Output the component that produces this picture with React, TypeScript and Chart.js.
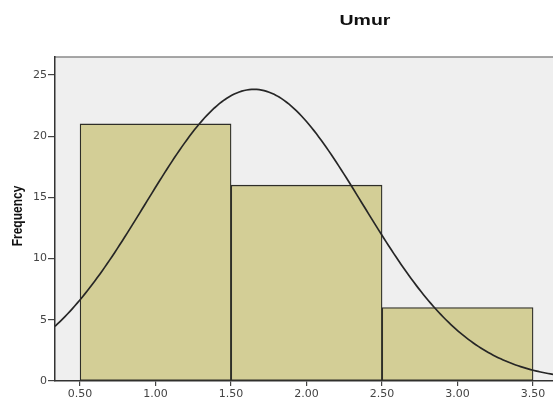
import React, { useEffect, useRef } from "react";
import { Chart, registerables } from "chart.js";

Chart.register(...registerables);

// Histogram bins (centres, width 1) and their frequencies
const binCenters = [1.0, 2.0, 3.0];
const frequencies = [21, 16, 6];
const binWidth = 1;

// Axis ticks
const xTickValues = [0.5, 1.0, 1.5, 2.0, 2.5, 3.0, 3.5];
const yTickValues = [0, 5, 10, 15, 20, 25];
const xRange = [0.334, 3.632];
const yRange = [0, 26.47];

const chartTitle = "Umur";
const yAxisTitle = "Frequency";

// Fitted normal curve (SPSS overlay) derived from the binned data above
function normalCurve() {
  const n = frequencies.reduce((a, b) => a + b, 0);
  const mean = binCenters.reduce((s, c, i) => s + c * frequencies[i], 0) / n;
  const ss = binCenters.reduce((s, c, i) => s + frequencies[i] * (c - mean) ** 2, 0);
  const sd = Math.sqrt(ss / (n - 1));
  const pts: { x: number; y: number }[] = [];
  const steps = 200;
  for (let i = 0; i <= steps; i++) {
    const x = xRange[0] + ((xRange[1] - xRange[0]) * i) / steps;
    const z = (x - mean) / sd;
    const y = (n * binWidth) / (sd * Math.sqrt(2 * Math.PI)) * Math.exp(-0.5 * z * z);
    pts.push({ x, y });
  }
  return pts;
}

const decorPlugin = {
  id: "decor",
  beforeDraw(chart: any) {
    const { ctx, chartArea } = chart;
    ctx.save();
    ctx.fillStyle = "#efefef";
    ctx.fillRect(chartArea.left, chartArea.top, chartArea.right - chartArea.left, chartArea.bottom - chartArea.top);
    ctx.strokeStyle = "#8a8a8a";
    ctx.lineWidth = 1.5;
    ctx.beginPath();
    ctx.moveTo(chartArea.left, chartArea.top);
    ctx.lineTo(chartArea.right, chartArea.top);
    ctx.stroke();
    ctx.restore();
  },
  afterDraw(chart: any) {
    const { ctx } = chart;
    ctx.save();
    ctx.fillStyle = "#111";
    ctx.textAlign = "center";
    ctx.textBaseline = "middle";
    ctx.font = "bold 15px 'Liberation Sans', Arial, sans-serif";
    ctx.translate(365, 21);
    ctx.scale(1.3, 1);
    ctx.fillText(chartTitle, 0, 0);
    ctx.restore();

    ctx.save();
    ctx.fillStyle = "#111";
    ctx.textAlign = "center";
    ctx.textBaseline = "middle";
    ctx.font = "bold 12px 'Liberation Sans', Arial, sans-serif";
    ctx.translate(18, 216);
    ctx.rotate(-Math.PI / 2);
    ctx.scale(1, 1.25);
    ctx.fillText(yAxisTitle, 0, 0);
    ctx.restore();
  },
};

export default function App() {
  const ref = useRef<HTMLCanvasElement | null>(null);

  useEffect(() => {
    if (!ref.current) return;
    const chart = new Chart(ref.current, {
      type: "bar",
      data: {
        datasets: [
          {
            type: "scatter",
            data: normalCurve(),
            showLine: true,
            borderColor: "#262626",
            borderWidth: 1.7,
            pointRadius: 0,
            fill: false,
            order: 0,
          } as any,
          {
            type: "bar",
            data: binCenters.map((c, i) => ({ x: c, y: frequencies[i] })),
            backgroundColor: "#d3ce96",
            borderColor: "#2e2e28",
            borderWidth: 1.3,
            borderSkipped: false,
            barThickness: "flex",
            barPercentage: 1,
            categoryPercentage: 1,
            order: 1,
          } as any,
        ],
      },
      options: {
        animation: false,
        responsive: true,
        maintainAspectRatio: false,
        layout: { padding: { top: 57, left: 0, right: 0, bottom: 0 } },
        plugins: { legend: { display: false }, tooltip: { enabled: false }, title: { display: false } },
        scales: {
          x: {
            type: "linear",
            offset: false,
            min: xRange[0],
            max: xRange[1],
            afterBuildTicks: (scale: any) => {
              scale.ticks = xTickValues.map((v) => ({ value: v }));
            },
            afterFit: (scale: any) => {
              scale.height = 18;
            },
            ticks: {
              autoSkip: false,
              maxRotation: 0,
              padding: 2,
              color: "#444",
              font: { family: "'DejaVu Sans', sans-serif", size: 11 },
              callback: (v: any) => Number(v).toFixed(2),
            },
            grid: { offset: false, drawOnChartArea: false, drawTicks: true, tickLength: 5, color: "#444", lineWidth: 1.2 },
            border: { display: true, color: "#333", width: 1.5 },
          },
          y: {
            type: "linear",
            min: yRange[0],
            max: yRange[1],
            afterBuildTicks: (scale: any) => {
              scale.ticks = yTickValues.map((v) => ({ value: v }));
            },
            afterFit: (scale: any) => {
              scale.width = 55;
            },
            ticks: {
              padding: 1,
              color: "#444",
              font: { family: "'DejaVu Sans', sans-serif", size: 11 },
              callback: (v: any) => String(v),
            },
            grid: { drawOnChartArea: false, drawTicks: true, tickLength: 7, color: "#444", lineWidth: 1.2 },
            border: { display: true, color: "#333", width: 1.5 },
          },
        },
      },
      plugins: [decorPlugin],
    });
    return () => chart.destroy();
  }, []);

  return (
    <div style={{ position: "fixed", left: 0, top: 0, width: 553, height: 399, background: "#fff" }}>
      <canvas ref={ref} />
    </div>
  );
}
